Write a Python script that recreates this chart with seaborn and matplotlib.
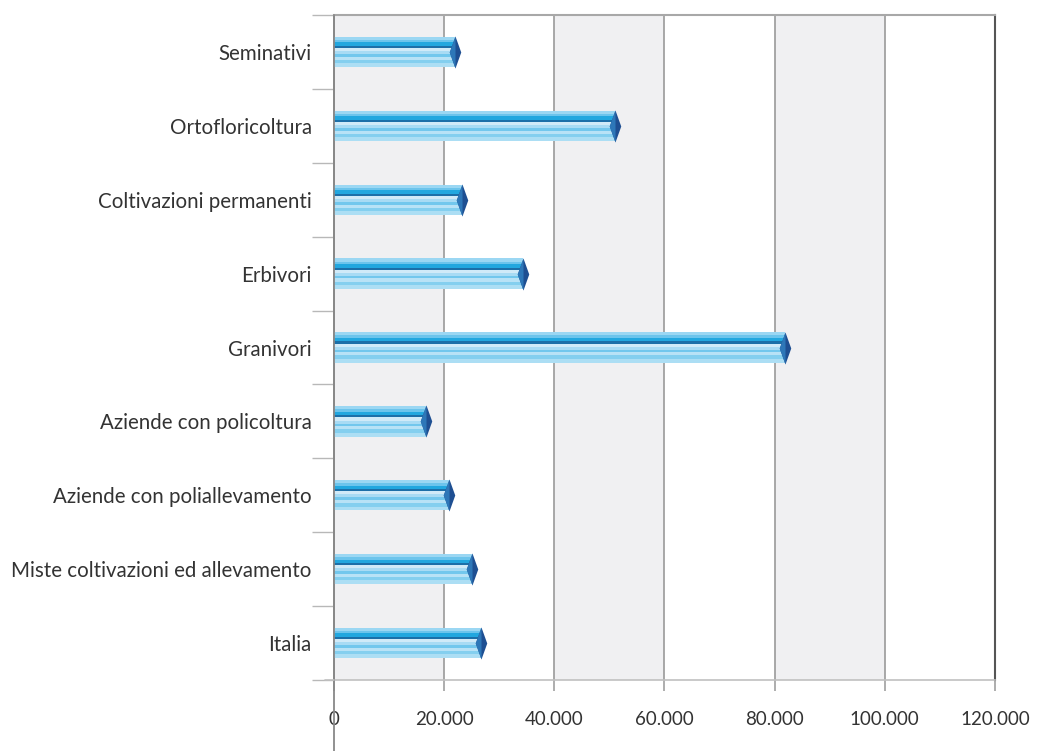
import matplotlib
matplotlib.use("Agg")
import matplotlib.pyplot as plt
import seaborn as sns
import numpy as np
import pandas as pd
from matplotlib.ticker import FixedLocator, FuncFormatter

# Data
categories = [
    "Seminativi",
    "Ortofloricoltura",
    "Coltivazioni permanenti",
    "Erbivori",
    "Granivori",
    "Aziende con policoltura",
    "Aziende con poliallevamento",
    "Miste coltivazioni ed allevamento",
    "Italia",
]
values = [22000, 51000, 23200, 34300, 81900, 16700, 20900, 25000, 26700]
x_ticks = [0, 20000, 40000, 60000, 80000, 100000, 120000]

df = pd.DataFrame({"categoria": categories, "valore": values})

sns.set_theme(style="white")
plt.rcParams["font.family"] = ["Lato", "DejaVu Sans"]

fig = plt.figure(figsize=(10.48, 7.51), dpi=100)
ax = fig.add_axes([0.3187, 0.0945, 0.9494 - 0.3187, 0.980 - 0.0945])

# alternating background bands
for i in range(0, len(x_ticks) - 1, 2):
    ax.axvspan(x_ticks[i], x_ticks[i + 1], color="#f0f0f2", zorder=0, lw=0)
# vertical grid lines
for t in x_ticks[1:-1]:
    ax.axvline(t, color="#9a9a9a", lw=1.2, zorder=1)

bar_h = 0.41
sns.barplot(data=df, y="categoria", x="valore", orient="h", color="#9fd8f3",
            width=bar_h, saturation=1, ax=ax, zorder=2, edgecolor="none")

# striped fill of each bar (fractions of bar height from the top)
stripes = [
    (0.00, 0.10, "#9bd7f3"),
    (0.10, 0.18, "#6cc4ec"),
    (0.18, 0.30, "#22a7df"),
    (0.30, 0.37, "#1c6fa8"),
    (0.37, 0.47, "#d0eaf8"),
    (0.47, 0.57, "#a8dbf4"),
    (0.57, 0.66, "#72c7ed"),
    (0.66, 0.76, "#b8e2f6"),
    (0.76, 0.87, "#84cfef"),
    (0.87, 1.00, "#acdef4"),
]
pos = np.arange(len(categories))
for f0, f1, c in stripes:
    centers = pos - bar_h / 2 + bar_h * (f0 + f1) / 2
    ax.barh(centers, values, height=bar_h * (f1 - f0), color=c, lw=0, zorder=3)

# diamond caps at the bar ends
diamond = [(0, 1), (0.36, 0), (0, -1), (-0.36, 0), (0, 1)]
half_left = [(0, 1), (-0.36, 0), (0, -1), (0, 1)]
ax.plot(values, pos, ls="none", marker=diamond, markersize=23,
        color="#1e4f92", mec="none", zorder=5)
ax.plot(values, pos, ls="none", marker=half_left, markersize=23,
        color="#2d77b8", mec="none", zorder=6)

ax.set_xlim(0, 120000)
ax.set_ylim(len(categories) - 0.5, -0.5)
ax.set_xlabel("")
ax.set_ylabel("")

ax.xaxis.set_major_locator(FixedLocator(x_ticks))
ax.xaxis.set_major_formatter(FuncFormatter(lambda v, p: f"{int(v):,}".replace(",", ".")))
ax.tick_params(axis="x", length=8, width=1.2, color="#a0a0a0", pad=14,
               labelsize=13.5, labelcolor="#333333", bottom=True)

ax.yaxis.set_minor_locator(FixedLocator(np.arange(-0.5, len(categories) + 0.5, 1.0)))
ax.tick_params(axis="y", which="major", length=0, pad=16, labelsize=14.8,
               labelcolor="#333333")
ax.tick_params(axis="y", which="minor", length=16, width=1.0, color="#b8b8b8", left=True)

for side, col, lw in [("top", "#a8a8a8", 1.5), ("right", "#555555", 1.5),
                      ("bottom", "#c0c0c0", 1.2), ("left", "#888888", 1.3)]:
    ax.spines[side].set_visible(True)
    ax.spines[side].set_color(col)
    ax.spines[side].set_linewidth(lw)

# left axis line runs down past the tick labels
ax.axvline(0, ymin=-0.11, ymax=1.0, color="#888888", lw=1.3, clip_on=False, zorder=7)
# bottom axis line extends slightly left of the origin
ax.plot([-1700, 0], [len(categories) - 0.5] * 2, color="#c0c0c0", lw=1.2,
        clip_on=False, zorder=7)

fig.savefig("out.png", dpi=100)
